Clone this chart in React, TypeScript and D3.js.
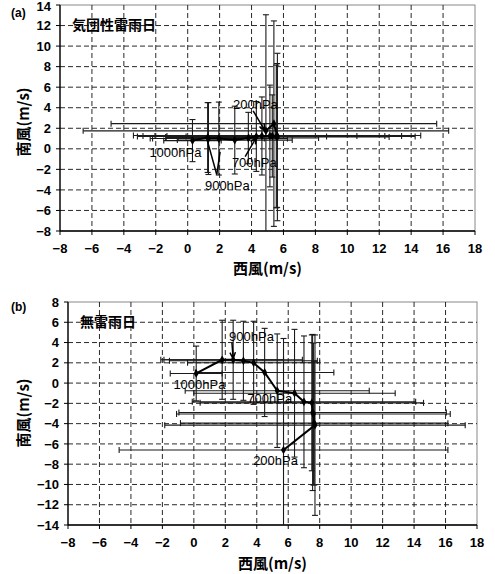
import * as d3 from "d3";

// pressure levels (hPa), same for both panels
const LEVELS = [1000, 950, 900, 850, 800, 750, 700, 650, 600, 550, 500, 400, 300, 250, 200];

// (a) air-mass thunderstorm days
const A_U = [0.3, 1.25, 1.3, 1.95, 2.95, 3.8, 4.3, 4.65, 5.15, 5.3, 5.55, 5.62, 5.6, 5.4, 4.9];
const A_V = [0.8, 1.1, 1.0, 1.0, 0.85, 1.05, 1.2, 1.25, 1.25, 1.25, 1.2, 1.15, 1.3, 2.45, 1.75];
const A_SU = [1.8, 2.6, 3.5, 4.3, 3.6, 4.4, 4.4, 5.95, 7.2, 8.1, 8.7, 7.0, 9.0, 10.2, 11.45];
const A_SV = [2.05, 3.4, 3.5, 3.55, 3.3, 2.5, 3.4, 3.8, 4.95, 4.0, 6.95, 8.15, 7.0, 10.0, 11.3];

// (b) no-thunder rain days
const B_U = [0.15, 1.8, 2.5, 3.15, 3.8, 4.5, 5.3, 6.4, 7.0, 7.5, 7.55, 7.6, 7.65, 7.7, 5.7];
const B_V = [0.95, 2.3, 2.3, 2.2, 2.0, 1.05, -0.75, -1.0, -1.85, -1.95, -2.9, -3.05, -3.95, -4.15, -6.6];
const B_SU = [1.65, 3.9, 4.4, 4.7, 4.2, 4.4, 5.85, 6.4, 7.1, 7.1, 8.5, 8.7, 8.5, 9.55, 10.45];
const B_SV = [2.7, 3.9, 3.9, 3.9, 4.1, 4.35, 5.6, 6.3, 6.5, 6.7, 7.7, 7.0, 6.1, 8.9, 11.0];

const X_TICKS = [-8, -6, -4, -2, 0, 2, 4, 6, 8, 10, 12, 14, 16, 18];
const A_Y_TICKS = [-8, -6, -4, -2, 0, 2, 4, 6, 8, 10, 12, 14];
const B_Y_TICKS = [-14, -12, -10, -8, -6, -4, -2, 0, 2, 4, 6, 8];

// level labels: text anchor and leader lines in data units
const A_NOTES = [
  { text: "1000hPa", tx: -2.4, ty: -0.8, lines: [] },
  { text: "900hPa", tx: 1.08, ty: -4.0, lines: [[1.82, -2.5, 1.23, 0.8], [1.82, -2.5, 2.03, -0.3]] },
  { text: "700hPa", tx: 2.77, ty: -1.77, arrow: [3.6, -0.75, 4.3, 1.1] },
  { text: "200hPa", tx: 2.84, ty: 3.87, arrow: [4.1, 3.7, 4.85, 1.75] },
];
const B_NOTES = [
  { text: "1000hPa", tx: -1.3, ty: -0.6, lines: [] },
  { text: "900hPa", tx: 2.24, ty: 4.13, arrow: [2.42, 4.0, 2.5, 2.4] },
  { text: "700hPa", tx: 3.4, ty: -1.98, lines: [] },
  { text: "200hPa", tx: 3.77, ty: -8.1, lines: [] },
];

const NUM_FONT = "'Liberation Sans', Arial, sans-serif";
const JP_FONT = "'Noto Sans CJK JP', sans-serif";

function Panel({ id, tag, tagY, title, u, v, su, sv, yTicks, xr, yr, notes, xTitleY, yTitleY }) {
  const x = d3.scaleLinear().domain([X_TICKS[0], X_TICKS[X_TICKS.length - 1]]).range(xr);
  const y = d3.scaleLinear().domain([yTicks[0], yTicks[yTicks.length - 1]]).range(yr);
  const top = yr[1], bottom = yr[0], left = xr[0], right = xr[1];
  const pts = LEVELS.map((lv, i) => ({ lv, u: u[i], v: v[i], su: su[i], sv: sv[i] }));
  const line = d3.line().x((d) => x(d.u)).y((d) => y(d.v));
  const diamond = d3.symbol().type(d3.symbolDiamond).size(22)();
  const cap = 3;

  const arrowPath = (a) => {
    const [x1, y1, x2, y2] = [x(a[0]), y(a[1]), x(a[2]), y(a[3])];
    const ang = Math.atan2(y2 - y1, x2 - x1);
    const h = 7, s = 0.4;
    return `M${x1},${y1}L${x2},${y2}M${x2 - h * Math.cos(ang - s)},${y2 - h * Math.sin(ang - s)}L${x2},${y2}L${x2 - h * Math.cos(ang + s)},${y2 - h * Math.sin(ang + s)}`;
  };

  return (
    <g>
      <defs>
        <clipPath id={id + "-clip"}>
          <rect x={left} y={top} width={right - left} height={bottom - top} />
        </clipPath>
      </defs>
      <rect x={left} y={top} width={right - left} height={bottom - top} fill="#fff" stroke="#888" />
      {/* grid */}
      {X_TICKS.slice(1, -1).map((t) => (
        <line key={"gx" + t} x1={x(t)} x2={x(t)} y1={top} y2={bottom} stroke="#111" strokeDasharray="5,3" strokeWidth={0.9} />
      ))}
      {yTicks.slice(1, -1).map((t) => (
        <line key={"gy" + t} x1={left} x2={right} y1={y(t)} y2={y(t)} stroke="#111" strokeDasharray="5,3" strokeWidth={0.9} />
      ))}
      {/* axes */}
      <line x1={left} x2={left} y1={top} y2={bottom} stroke="#000" strokeWidth={1.3} />
      <line x1={left} x2={right} y1={bottom} y2={bottom} stroke="#000" strokeWidth={1.3} />
      {X_TICKS.map((t) => (
        <g key={"tx" + t}>
          <line x1={x(t)} x2={x(t)} y1={bottom} y2={bottom + 4} stroke="#000" />
          <text x={x(t)} y={bottom + 22} textAnchor="middle" fontFamily={NUM_FONT} fontWeight="bold" fontSize={13}>
            {t < 0 ? "\u2212" + Math.abs(t) : t}
          </text>
        </g>
      ))}
      {yTicks.map((t) => (
        <g key={"ty" + t}>
          <line x1={left - 4} x2={left} y1={y(t)} y2={y(t)} stroke="#000" />
          <text x={left - 9} y={Math.max(y(t), 6)} dy="0.36em" textAnchor="end" fontFamily={NUM_FONT} fontWeight="bold" fontSize={13}>
            {t < 0 ? "\u2212" + Math.abs(t) : t}
          </text>
        </g>
      ))}
      {/* error bars */}
      <g clipPath={`url(#${id}-clip)`} stroke="#1a1a1a" strokeWidth={1.1} fill="none">
        {pts.map((d, i) => (
          <g key={"eb" + i}>
            <line x1={x(d.u - d.su)} x2={x(d.u + d.su)} y1={y(d.v)} y2={y(d.v)} />
            <line x1={x(d.u - d.su)} x2={x(d.u - d.su)} y1={y(d.v) - cap} y2={y(d.v) + cap} />
            <line x1={x(d.u + d.su)} x2={x(d.u + d.su)} y1={y(d.v) - cap} y2={y(d.v) + cap} />
            <line x1={x(d.u)} x2={x(d.u)} y1={y(d.v - d.sv)} y2={y(d.v + d.sv)} />
            <line x1={x(d.u) - cap} x2={x(d.u) + cap} y1={y(d.v - d.sv)} y2={y(d.v - d.sv)} />
            <line x1={x(d.u) - cap} x2={x(d.u) + cap} y1={y(d.v + d.sv)} y2={y(d.v + d.sv)} />
          </g>
        ))}
      </g>
      {/* hodograph */}
      <path d={line(pts)} fill="none" stroke="#000" strokeWidth={2} />
      {pts.map((d, i) => (
        <path key={"m" + i} d={diamond} transform={`translate(${x(d.u)},${y(d.v)})`} fill="#000" />
      ))}
      {/* level labels */}
      {notes.map((n) => (
        <g key={n.text}>
          {(n.lines || []).map((l, j) => (
            <line key={j} x1={x(l[0])} y1={y(l[1])} x2={x(l[2])} y2={y(l[3])} stroke="#000" strokeWidth={1.5} />
          ))}
          {n.arrow && <path d={arrowPath(n.arrow)} fill="none" stroke="#000" strokeWidth={1.5} />}
          <text x={x(n.tx)} y={y(n.ty)} fontFamily={NUM_FONT} fontSize={13}>{n.text}</text>
        </g>
      ))}
      {/* titles */}
      <text x={left + 12} y={top + 25} fontFamily={JP_FONT} fontWeight="bold" fontSize={14}>{title}</text>
      <text x={11} y={tagY} fontFamily={NUM_FONT} fontWeight="bold" fontSize={12}>{tag}</text>
      <text x={(left + right) / 2} y={xTitleY} textAnchor="middle" fontFamily={JP_FONT} fontWeight="bold" fontSize={15}>西風(m/s)</text>
      <text transform={`translate(29,${yTitleY}) rotate(-90)`} textAnchor="middle" fontFamily={JP_FONT} fontWeight="bold" fontSize={15}>南風(m/s)</text>
    </g>
  );
}

export default function App() {
  return (
    <svg width={495} height={574} style={{ position: "absolute", left: 0, top: 0, background: "#fff" }}>
      <Panel id="a" tag="(a)" tagY={17} title="気団性雷雨日" u={A_U} v={A_V} su={A_SU} sv={A_SV}
        yTicks={A_Y_TICKS} xr={[60, 475]} yr={[231, 5]} notes={A_NOTES} xTitleY={274} yTitleY={122} />
      <Panel id="b" tag="(b)" tagY={311} title="無雷雨日" u={B_U} v={B_V} su={B_SU} sv={B_SV}
        yTicks={B_Y_TICKS} xr={[68, 477]} yr={[525, 302]} notes={B_NOTES} xTitleY={569} yTitleY={413} />
    </svg>
  );
}
